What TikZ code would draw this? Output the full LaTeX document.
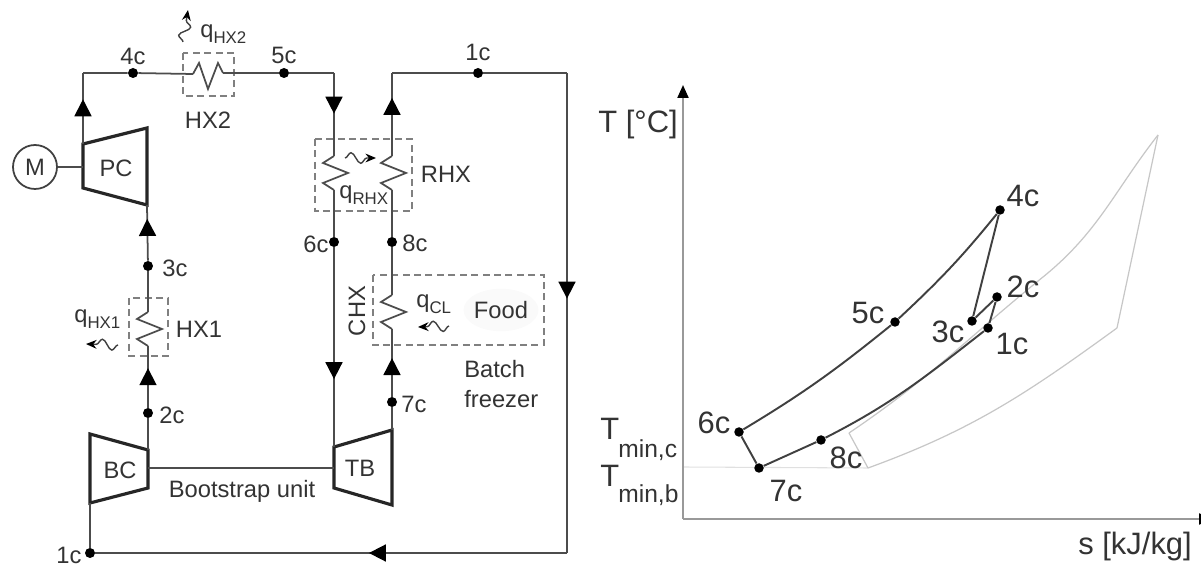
\documentclass[tikz,border=0pt]{standalone}
\usepackage{fontspec}
\setmainfont{Liberation Sans}
\usetikzlibrary{arrows.meta,decorations.markings,decorations.pathmorphing,shapes.geometric}
\tikzset{
  pipe/.style={line width=1pt,black!70},
  machine/.style={line width=1.8pt,black!85,line join=miter},
  hxbox/.style={line width=0.7pt,black!50,dash pattern=on 4pt off 2.5pt},
  flow/.style={postaction={decorate},decoration={markings,mark=at position #1 with {\arrow{Triangle[length=0.34cm,width=0.34cm,black]}}}},
  heat/.style={line width=0.8pt,black!75,-{Stealth[length=6pt,width=5pt,black]},decorate,decoration={snake,amplitude=3pt,segment length=11pt,pre length=0pt,post length=4pt}},
  dot/.style={circle,fill=black,inner sep=0pt,minimum size=0.2cm},
  tsdot/.style={circle,fill=black,inner sep=0pt,minimum size=0.19cm},
  lab/.style={font=\fontsize{13.5}{15}\selectfont,text=black!80,inner sep=0pt},
  tslab/.style={font=\fontsize{17.6}{20}\selectfont,text=black!80,inner sep=0pt},
  cycle/.style={line width=1.1pt,black!75},
  bound/.style={line width=0.7pt,black!22},
  axis/.style={line width=1.2pt,black!40}
}
\newcommand{\coil}[2]{
  \begin{scope}[shift={(#2)}]
    \coordinate (#1t) at (0,-17);
    \coordinate (#1b) at (0,17);
    \draw[pipe] (#1t) -- (-11,-10) -- (14,0) -- (-11,10) -- (#1b);
  \end{scope}
}
\newcommand{\subfont}{\fontsize{9.6}{11}\selectfont}
\begin{document}
\begin{tikzpicture}[x=0.02cm,y=-0.02cm]
  \useasboundingbox (0,0) rectangle (1201,567);

  % Machines
  \draw[machine] (83,144) coordinate (pca) -- (147,128) -- (147,205) coordinate (pcb) -- (83,188) -- cycle;
  \draw[machine] (90,434) -- (148,450) coordinate (bca) -- (148,488) -- (90,503) coordinate (bcb) -- cycle;
  \draw[machine] (334,447) coordinate (tba) -- (392,430) coordinate (tbb) -- (392,505) -- (334,488) -- cycle;
  \node[lab] (pc) at (116,168) {PC};
  \node[lab] (bc) at (120,470) {BC};
  \node[lab] (tb) at (360,468) {TB};
  \node[lab,circle,draw=black!75,line width=1pt,minimum size=0.88cm] (motor) at (35,167) {M};
  \draw[pipe] (motor) -- (83,167);
  \draw[pipe] (148,468) coordinate (shafta) -- (334,468) coordinate (shaftb);

  % Dashed boxes
  \draw[hxbox] (183,53) rectangle (234,96);
  \draw[hxbox] (315,139) rectangle (412,211);
  \draw[hxbox] (129,298) rectangle (168,356);
  \draw[hxbox] (373,275) rectangle (544,345);
  \node[ellipse,fill=black!2,minimum width=1.5cm,minimum height=0.85cm,inner sep=0pt] (foodbg) at (501,310) {};

  % State points
  \node[dot] (a4c) at (133,73) {};
  \node[dot] (a5c) at (284,73) {};
  \node[dot] (a1c) at (478,73) {};
  \node[dot] (a6c) at (334,242) {};
  \node[dot] (a8c) at (392,242) {};
  \node[dot] (a3c) at (148,266) {};
  \node[dot] (a7c) at (392,402) {};
  \node[dot] (a2c) at (148,413) {};
  \node[dot] (a1d) at (90,553) {};

  % Heat exchangers
  \coil{rhxa}{334,173}
  \coil{rhxb}{392,173}
  \coil{chx}{392,312}
  \coil{hxone}{148,329}
  \coordinate (hxtwoa) at (193,74);
  \coordinate (hxtwob) at (223,73);
  \draw[pipe] (hxtwoa) -- (199,63) -- (208,89) -- (218,63) -- (hxtwob);

  % Corners of the loop
  \coordinate (cna) at (83,73);
  \coordinate (cnb) at (334,73);
  \coordinate (cnc) at (392,73);
  \coordinate (cnd) at (567,73);
  \coordinate (cne) at (567,553);

  % Piping
  \draw[pipe,flow=0.63] (pca) -- (cna);
  \draw[pipe] (cna) -- (a4c) -- (hxtwoa);
  \draw[pipe] (hxtwob) -- (a5c) -- (cnb);
  \draw[pipe,flow=0.49] (cnb) -- (rhxat);
  \draw[pipe] (rhxab) -- (a6c);
  \draw[pipe,flow=0.66] (a6c) -- (tba);
  \draw[pipe,flow=0.7] (rhxbt) -- (cnc);
  \draw[pipe] (cnc) -- (a1c) -- (cnd);
  \draw[pipe,flow=0.47] (cnd) -- (cne);
  \draw[pipe,flow=0.42] (cne) -- (a1d);
  \draw[pipe] (a1d) -- (bcb);
  \draw[pipe] (a8c) -- (rhxbb);
  \draw[pipe] (chxt) -- (a8c);
  \draw[pipe,flow=0.57] (a7c) -- (chxb);
  \draw[pipe] (tbb) -- (a7c);
  \draw[pipe] (bca) -- (a2c);
  \draw[pipe,flow=0.64] (a2c) -- (hxoneb);
  \draw[pipe] (hxonet) -- (a3c);
  \draw[pipe,flow=0.75] (a3c) -- (pcb);

  % Heat arrows
  \draw[heat] (183,42) -- (188,10);
  \draw[heat] (345,158) -- (376,158);
  \draw[heat] (118,345) -- (86,344);
  \draw[heat] (449,326) -- (418,327);

  % Labels of the flow sheet
  \node[lab] (l4c) at (133,56) {4c};
  \node[lab] (l5c) at (284,55) {5c};
  \node[lab] (l1c) at (478,52) {1c};
  \node[lab] (l3c) at (175,268) {3c};
  \node[lab] (l2c) at (172,415) {2c};
  \node[lab] (l1d) at (69,555) {1c};
  \node[lab] (l6c) at (316,244) {6c};
  \node[lab] (l8c) at (415,243) {8c};
  \node[lab] (l7c) at (414,404) {7c};
  \node[lab] (lhxtwo) at (208,120) {HX2};
  \node[lab] (lhxone) at (199,329) {HX1};
  \node[lab] (lrhx) at (446,174) {RHX};
  \node[lab,rotate=90] (lchx) at (357,311) {CHX};
  \node[lab] (lfood) at (501,310) {Food};
  \node[lab,anchor=base west,align=left] (lbatch) at (464,408) {Batch\\[2.6pt]freezer};
  \node[lab] (lboot) at (242,491) {Bootstrap unit};
  \node[lab,anchor=base west] (qhxtwo) at (200,38) {q{\subfont\raisebox{-3pt}{HX2}}};
  \node[lab,anchor=base west] (qrhx) at (339,199) {q{\subfont\raisebox{-3pt}{RHX}}};
  \node[lab,anchor=base west] (qhxone) at (74,323) {q{\subfont\raisebox{-3pt}{HX1}}};
  \node[lab,anchor=base west] (qcl) at (416,308) {q{\subfont\raisebox{-3pt}{CL}}};

  % T-s axes
  \coordinate (origin) at (683,519);
  \coordinate (taxis) at (683,85);
  \coordinate (saxis) at (1212,519);
  \draw[axis,-{Triangle[length=0.26cm,width=0.22cm,black]}] (origin) -- (taxis);
  \draw[axis,-{Triangle[length=0.26cm,width=0.22cm,black]}] (origin) -- (saxis);
  \node[tslab,anchor=base west] (ltemp) at (598,133) {T [°C]};
  \node[tslab,anchor=base west] (lentropy) at (1078,555) {s [kJ/kg]};
  \node[tslab,anchor=base west] (ltminc) at (600,440) {T};
  \node[tslab,anchor=base west] (lsubc) at (618,458) {\fontsize{14}{16}\selectfont min,c};
  \node[tslab,anchor=base west] (ltminb) at (600,487) {T};
  \node[tslab,anchor=base west] (lsubb) at (618,503) {\fontsize{14}{16}\selectfont min,b};

  % Light grey cycle
  \coordinate (ga) at (849,433);
  \coordinate (gb) at (868,468);
  \coordinate (gc) at (1117,328);
  \coordinate (gd) at (1158,135);
  \coordinate (tmin) at (684,467);
  \draw[line width=0.6pt,black!12] (tmin) -- (gb);
  \draw[bound] (gd) -- (gc);
  \draw[bound] (gb) -- (ga);
  \draw[bound] (gb) to[out=20,in=216] (gc);
  \draw[bound] (ga) to[out=34,in=219] (1043,277) to[out=39,in=232] (gd);

  % T-s cycle
  \node[tsdot] (t4c) at (1000,210) {};
  \node[tsdot] (t5c) at (895,322) {};
  \node[tsdot] (t6c) at (739,432) {};
  \node[tsdot] (t7c) at (759,468) {};
  \node[tsdot] (t8c) at (821,440) {};
  \node[tsdot] (t1c) at (988,328) {};
  \node[tsdot] (t2c) at (997,297) {};
  \node[tsdot] (t3c) at (972,321) {};
  \draw[cycle] (t6c) to[out=31,in=219] (t5c) to[out=43,in=231] (t4c);
  \draw[cycle] (t4c) -- (t3c) -- (t2c) -- (t1c);
  \draw[cycle] (t1c) to[out=218,in=27] (t8c) -- (t7c) -- (t6c);
  \node[tslab] (m4c) at (1023,196) {4c};
  \node[tslab] (m5c) at (868,313) {5c};
  \node[tslab] (m2c) at (1023,287) {2c};
  \node[tslab] (m3c) at (948,332) {3c};
  \node[tslab] (m1c) at (1012,344) {1c};
  \node[tslab] (m6c) at (714,423) {6c};
  \node[tslab] (m8c) at (846,458) {8c};
  \node[tslab] (m7c) at (786,491) {7c};
\end{tikzpicture}
\end{document}
